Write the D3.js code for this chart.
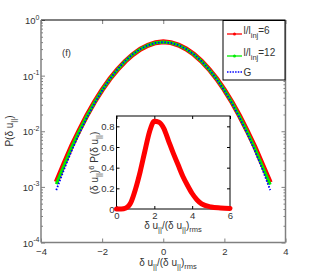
<!DOCTYPE html>
<html><head><meta charset="utf-8">
<script src="https://cdn.jsdelivr.net/npm/d3@7"></script>
<style>
body{margin:0;background:#fff;}
text{font-family:"Liberation Sans",Arial,sans-serif;}
</style></head>
<body><svg id="c" width="316" height="273"></svg>
<script>
// ---- data ----
const xVals = [-3.5,-3.25,-3.0,-2.75,-2.5,-2.25,-2.0,-1.75,-1.5,-1.25,-1.0,-0.75,-0.5,-0.25,0,0.25,0.5,0.75,1.0,1.25,1.5,1.75,2.0,2.25,2.5,2.75,3.0,3.25,3.5];
const pL6  = [0.00122,0.0026,0.0054,0.0104,0.0192,0.0335,0.0555,0.0868,0.128,0.180,0.238,0.298,0.350,0.390,0.405,0.392,0.354,0.302,0.242,0.183,0.130,0.0875,0.0555,0.0332,0.0188,0.0101,0.0052,0.0025,0.00120];
const pL12 = [0.00112,0.0024,0.0051,0.0100,0.0186,0.0330,0.0550,0.0865,0.128,0.181,0.240,0.300,0.352,0.390,0.403,0.390,0.353,0.301,0.241,0.182,0.129,0.0870,0.0550,0.0328,0.0183,0.0097,0.0049,0.0023,0.00110];
const pG   = [0.000873,0.00203,0.00443,0.00909,0.0175,0.0317,0.0540,0.0863,0.1295,0.1826,0.2420,0.3011,0.3521,0.3867,0.3989,0.3867,0.3521,0.3011,0.2420,0.1826,0.1295,0.0863,0.0540,0.0317,0.0175,0.00909,0.00443,0.00203,0.000873];
const insetX = [0,0.25,0.5,0.75,1.0,1.25,1.5,1.75,2.0,2.25,2.5,2.75,3.0,3.25,3.5,3.75,4.0,4.25,4.5,5.0,5.5,6.0];
const insetY = [0,0.0,0.01,0.06,0.19,0.36,0.56,0.75,0.85,0.84,0.78,0.66,0.54,0.43,0.32,0.23,0.15,0.09,0.05,0.02,0.01,0.005];
const xTicks = [-4,-2,0,2,4];
const yTicks = [1e-4,1e-3,1e-2,1e-1,1];
const yTickExp = ["-4","-3","-2","-1","0"];
const insetXTicks = [0,2,4,6];
const insetYTicks = [0,0.2,0.4,0.6,0.8];
const legendLabels = [{main:"l/l",sub:"inj",tail:"=6"},{main:"l/l",sub:"inj",tail:"=12"},{main:"G",sub:"",tail:""}];
const colors = ["#ff0000","#00ee00","#0000ff"];

const svg = d3.select("#c");
const L=41,R=285.5,T=20,B=242.5;
const x = d3.scaleLinear().domain([-4,4]).range([L,R]);
const y = d3.scaleLog().domain([1e-4,1]).range([B,T]);
const axisCol="#808080", txtCol="#333";

// minor ticks
const minor = [];
for (let e=-4;e<0;e++) for (let m=2;m<10;m++) minor.push(m*Math.pow(10,e));

// left axis
const gl = svg.append("g").attr("transform",`translate(${L},0)`)
  .call(d3.axisLeft(y).tickValues(yTicks).tickSize(-4).tickFormat(""));
gl.select(".domain").remove();
gl.selectAll(".tick line").attr("stroke",axisCol);
svg.append("g").attr("transform",`translate(${L},0)`)
  .call(d3.axisLeft(y).tickValues(minor).tickSize(-2).tickFormat(""))
  .call(g=>{g.select(".domain").remove();g.selectAll("line").attr("stroke",axisCol);});
gl.selectAll(".tick").each(function(d,i){
  d3.select(this).select("text").remove();
  const t=d3.select(this).append("text").attr("x",-1.5).attr("y",3.5).attr("text-anchor","end")
    .attr("fill",txtCol).style("font-size","9.5px");
  t.append("tspan").text("10");
  t.append("tspan").attr("dy",-4.5).style("font-size","7px").text(yTickExp[i]);
});
// right axis ticks
svg.append("g").attr("transform",`translate(${R},0)`)
  .call(d3.axisRight(y).tickValues(yTicks).tickSize(-4).tickFormat(""))
  .call(g=>{g.select(".domain").remove();g.selectAll("line").attr("stroke",axisCol);});
svg.append("g").attr("transform",`translate(${R},0)`)
  .call(d3.axisRight(y).tickValues(minor).tickSize(-2).tickFormat(""))
  .call(g=>{g.select(".domain").remove();g.selectAll("line").attr("stroke",axisCol);});

// bottom axis
const gb = svg.append("g").attr("transform",`translate(0,${B})`)
  .call(d3.axisBottom(x).tickValues(xTicks).tickSize(-4).tickPadding(6).tickFormat(d=>d<0?"\u2212"+Math.abs(d):d));
gb.select(".domain").remove();
gb.selectAll("line").attr("stroke",axisCol);
gb.selectAll("text").attr("fill",txtCol).style("font-size","9.5px").style("font-family","Liberation Sans");
// top ticks
svg.append("g").attr("transform",`translate(0,${T})`)
  .call(d3.axisTop(x).tickValues(xTicks).tickSize(-4).tickFormat(""))
  .call(g=>{g.select(".domain").remove();g.selectAll("line").attr("stroke",axisCol);});

// frame
svg.append("line").attr("x1",L).attr("x2",R).attr("y1",T).attr("y2",T).attr("stroke","#000").attr("stroke-width",1.2);
svg.append("line").attr("x1",L).attr("x2",L).attr("y1",T).attr("y2",B).attr("stroke",axisCol).attr("stroke-width",1.5);
svg.append("line").attr("x1",L).attr("x2",R).attr("y1",B).attr("y2",B).attr("stroke",axisCol).attr("stroke-width",1.5);
svg.append("line").attr("x1",R).attr("x2",R).attr("y1",T).attr("y2",B).attr("stroke",axisCol).attr("stroke-width",1.5);

// curves
const line = d3.line().x(d=>x(d[0])).y(d=>y(d[1]));
const s6 = xVals.map((v,i)=>[v,pL6[i]]);
const s12 = xVals.map((v,i)=>[v,pL12[i]]);
const sG = xVals.map((v,i)=>[v,pG[i]]);
svg.append("path").attr("d",line(s6)).attr("fill","none").attr("stroke",colors[0]).attr("stroke-width",5);
svg.append("path").attr("d",line(s12)).attr("fill","none").attr("stroke",colors[1]).attr("stroke-width",3);
svg.append("path").attr("d",line(sG)).attr("fill","none").attr("stroke",colors[2]).attr("stroke-width",1.8).attr("stroke-dasharray","1.6,1.6");

// (f)
svg.append("text").attr("x",62).attr("y",56).attr("fill",txtCol).style("font-size","9.5px").text("(f)");

// axis labels
function rmsLabel(t){
  t.append("tspan").text("\u03b4 u");
  t.append("tspan").attr("dy",3).style("font-size","7.5px").text("||");
  t.append("tspan").attr("dy",-3).text("/(\u03b4 u");
  t.append("tspan").attr("dy",3).style("font-size","7.5px").text("||");
  t.append("tspan").attr("dy",-3).text(")");
  t.append("tspan").attr("dy",3).style("font-size","7.5px").text("rms");
}
rmsLabel(svg.append("text").attr("x",168).attr("y",266).attr("text-anchor","middle").attr("fill",txtCol).style("font-size","10px"));

const yl = svg.append("text").attr("transform","translate(13,131) rotate(-90)").attr("text-anchor","middle").attr("fill",txtCol).style("font-size","10px");
yl.append("tspan").text("P(\u03b4 u");
yl.append("tspan").attr("dy",3).style("font-size","7.5px").text("||");
yl.append("tspan").attr("dy",-3).text(")");

// legend
const lg = svg.append("g");
lg.append("rect").attr("x",223).attr("y",20.5).attr("width",62).attr("height",59.5).attr("fill","#fff").attr("stroke","#000").attr("stroke-width",1);
const ly=[34,56,72];
legendLabels.forEach((lab,i)=>{
  const ln = lg.append("line").attr("x1",227).attr("x2",242).attr("y1",ly[i]).attr("y2",ly[i]).attr("stroke",colors[i]).attr("stroke-width",i===2?1.6:1.3);
  if(i===2) ln.attr("stroke-dasharray","1.5,1.2");
  else lg.append("circle").attr("cx",234.5).attr("cy",ly[i]).attr("r",1.5).attr("fill",colors[i]);
  const t = lg.append("text").attr("x",243.5).attr("y",ly[i]+(i===2?4:0)).attr("fill",txtCol).style("font-size","10px");
  t.append("tspan").text(lab.main);
  if(lab.sub){
    t.append("tspan").attr("dy",4).style("font-size","7.5px").text(lab.sub);
    t.append("tspan").attr("dy",-4).text(lab.tail);
  }
});

// inset
const iL=116.5,iR=230,iT=116,iB=209;
const ix = d3.scaleLinear().domain([0,6]).range([iL,iR]);
const iy = d3.scaleLinear().domain([0,0.9]).range([iB,iT]);
svg.append("rect").attr("x",iL).attr("y",iT).attr("width",iR-iL).attr("height",iB-iT).attr("fill","#fff").attr("stroke","#000").attr("stroke-width",1);
const ib = svg.append("g").attr("transform",`translate(0,${iB})`)
  .call(d3.axisBottom(ix).tickValues(insetXTicks).tickSize(-3).tickPadding(3).tickFormat(d3.format("d")));
ib.select(".domain").remove();
ib.selectAll("line").attr("stroke","#000");
ib.selectAll("text").attr("fill",txtCol).style("font-size","9.5px");
svg.append("g").attr("transform",`translate(0,${iT})`)
  .call(d3.axisTop(ix).tickValues(insetXTicks).tickSize(-3).tickFormat(""))
  .call(g=>{g.select(".domain").remove();g.selectAll("line").attr("stroke","#000");});
const il = svg.append("g").attr("transform",`translate(${iL},0)`)
  .call(d3.axisLeft(iy).tickValues(insetYTicks).tickSize(-3).tickPadding(2).tickFormat(d=>d===0?"0":d3.format(".1f")(d)));
il.select(".domain").remove();
il.selectAll("line").attr("stroke","#000");
il.selectAll("text").attr("fill",txtCol).style("font-size","9.5px");
svg.append("g").attr("transform",`translate(${iR},0)`)
  .call(d3.axisRight(iy).tickValues(insetYTicks).tickSize(-3).tickFormat(""))
  .call(g=>{g.select(".domain").remove();g.selectAll("line").attr("stroke","#000");});

const iline = d3.line().x(d=>ix(d[0])).y(d=>iy(d[1])).curve(d3.curveMonotoneX);
svg.append("path").attr("d",iline(insetX.map((v,i)=>[v,insetY[i]]))).attr("fill","none").attr("stroke","#ff0000").attr("stroke-width",5).attr("stroke-linecap","round");

rmsLabel(svg.append("text").attr("x",173).attr("y",229).attr("text-anchor","middle").attr("fill",txtCol).style("font-size","10px"));

const iyl = svg.append("text").attr("transform","translate(98,163) rotate(-90)").attr("text-anchor","middle").attr("fill",txtCol).style("font-size","10px");
iyl.append("tspan").text("(\u03b4 u");
iyl.append("tspan").attr("dy",3).style("font-size","7.5px").text("||");
iyl.append("tspan").attr("dy",-3).text(")");
iyl.append("tspan").attr("dy",-4).style("font-size","7.5px").text("6");
iyl.append("tspan").attr("dy",4).text(" P(\u03b4 u");
iyl.append("tspan").attr("dy",3).style("font-size","7.5px").text("||");
iyl.append("tspan").attr("dy",-3).text(")");
</script></body></html>
